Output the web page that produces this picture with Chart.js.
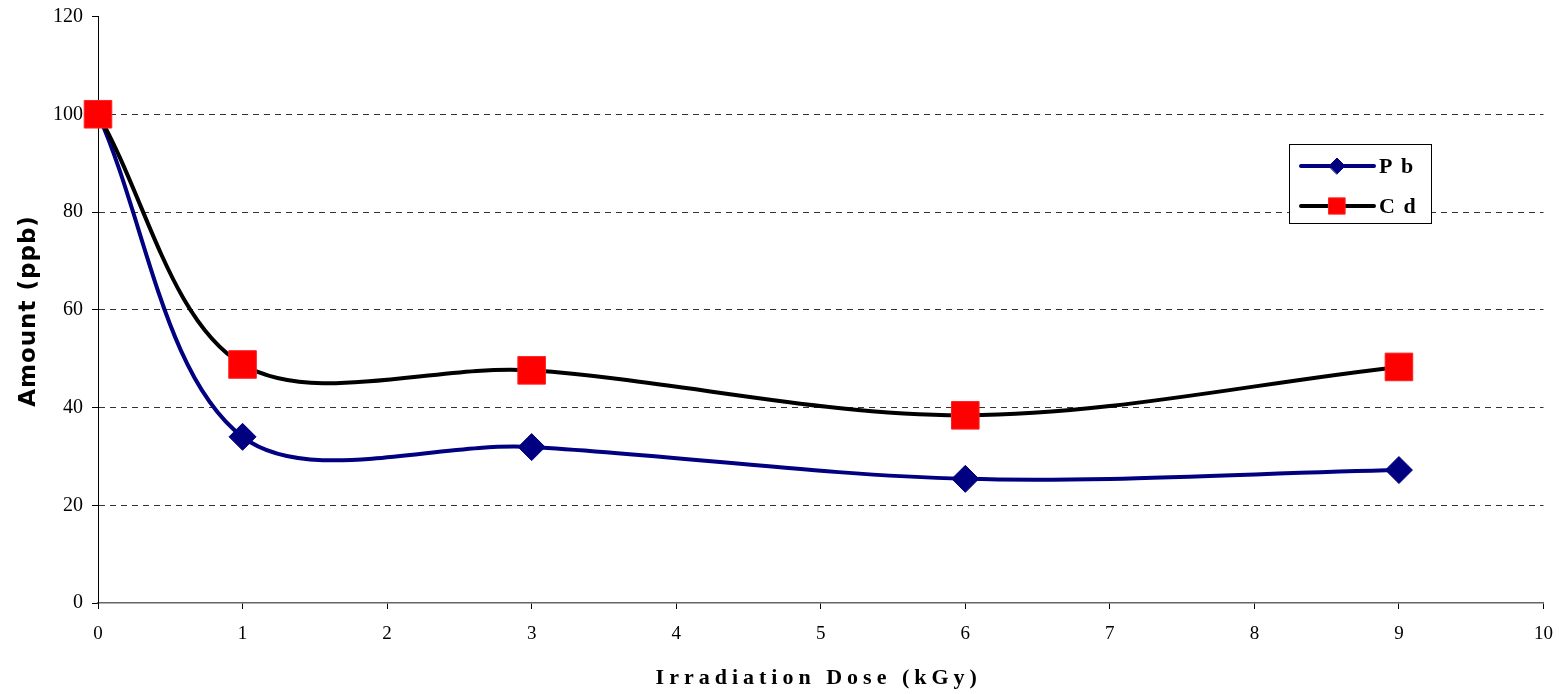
<!DOCTYPE html>
<html>
<head>
<meta charset="utf-8">
<script src="https://cdn.jsdelivr.net/npm/chart.js@4/dist/chart.umd.min.js"></script>
<style>
  html, body { margin: 0; padding: 0; background: #fff; overflow: hidden; }
  #wrap { position: relative; width: 1559px; height: 694px; overflow: hidden; }
  #c { position: absolute; left: 0; top: -4px; }
</style>
</head>
<body>
<div id="wrap"><canvas id="c" width="1564" height="698"></canvas></div>
<script>
// Irradiation dose (kGy) and remaining metal content (ppb)
const doses = [0, 1, 3, 6, 9];
const pbValues = [100, 34, 31.9, 25.4, 27.2];
const cdValues = [100, 48.8, 47.6, 38.4, 48.3];
const xTicks = [0, 1, 2, 3, 4, 5, 6, 7, 8, 9, 10];
const yTicks = [0, 20, 40, 60, 80, 100, 120];
const seriesNames = ['P b', 'C d'];
const xTitle = 'Irradiation Dose (kGy)';
const yTitle = 'Amount (ppb)';

const toPoints = (vals) => doses.map((d, i) => ({ x: d, y: vals[i] }));

// canvas sits 4px above the page top
const OY = 4;

// Axis titles and the boxed legend inside the plot
const decorations = {
  id: 'decorations',
  afterDraw(chart) {
    const ctx = chart.ctx;
    const area = chart.chartArea;
    ctx.save();
    // x title
    ctx.fillStyle = '#000';
    ctx.font = 'bold 22px "Liberation Serif"';
    ctx.letterSpacing = '5px';
    ctx.textAlign = 'center';
    ctx.textBaseline = 'middle';
    ctx.fillText(xTitle, (area.left + area.right) / 2 - 2, 678 + OY);
    // y title
    ctx.save();
    ctx.translate(29, 311 + OY);
    ctx.rotate(-Math.PI / 2);
    ctx.font = 'bold 23px "DejaVu Sans"';
    ctx.letterSpacing = '1px';
    ctx.fillText(yTitle, 0, 0);
    ctx.restore();

    // legend box
    const bx = 1289, by = 144 + OY, bw = 142, bh = 79;
    ctx.letterSpacing = '0px';
    ctx.fillStyle = '#fff';
    ctx.fillRect(bx, by, bw, bh);
    ctx.strokeStyle = '#000';
    ctx.lineWidth = 1;
    ctx.strokeRect(bx + 0.5, by + 0.5, bw, bh);
    const rows = [166 + OY, 206 + OY];
    chart.data.datasets.forEach((ds, i) => {
      const y = rows[i];
      ctx.strokeStyle = ds.borderColor;
      ctx.lineWidth = 4;
      ctx.lineCap = 'round';
      ctx.beginPath();
      ctx.moveTo(1301, y);
      ctx.lineTo(1374, y);
      ctx.stroke();
      ctx.fillStyle = ds.pointBackgroundColor;
      ctx.strokeStyle = ds.pointBorderColor;
      ctx.lineWidth = 1;
      Chart.helpers.drawPoint(ctx, {
        pointStyle: ds.pointStyle,
        rotation: 0,
        borderWidth: 1,
        radius: ds.pointStyle === 'rect' ? 11.5 : 8
      }, 1337, y);
      ctx.fillStyle = '#000';
      ctx.font = 'bold 22px "Liberation Serif"';
      ctx.letterSpacing = '1.5px';
      ctx.textAlign = 'left';
      ctx.textBaseline = 'middle';
      ctx.fillText(ds.label, 1379, y + 1);
      ctx.letterSpacing = '0px';
    });
    ctx.restore();
  }
};

// keep the plot area fixed regardless of label overhang
const noOverhang = (s) => {
  s.paddingLeft = 0;
  s.paddingRight = 0;
  s.paddingTop = 0;
  s.paddingBottom = 0;
};

new Chart(document.getElementById('c'), {
  type: 'line',
  data: {
    datasets: [
      {
        label: seriesNames[0],
        data: toPoints(pbValues),
        borderColor: '#000080',
        backgroundColor: '#000080',
        pointBackgroundColor: '#000080',
        pointBorderColor: '#000080',
        borderWidth: 4,
        pointStyle: 'rectRot',
        pointRadius: 13.5,
        pointBorderWidth: 1,
        tension: 0.33,
        clip: false,
        order: 1
      },
      {
        label: seriesNames[1],
        data: toPoints(cdValues),
        borderColor: '#000000',
        backgroundColor: '#ff0000',
        pointBackgroundColor: '#ff0000',
        pointBorderColor: '#ff2020',
        borderWidth: 4,
        pointStyle: 'rect',
        pointRadius: 19.5,
        pointBorderWidth: 1,
        tension: 0.33,
        clip: false,
        order: 0
      }
    ]
  },
  options: {
    responsive: false,
    animation: false,
    events: [],
    layout: { padding: { left: 0, right: 11, top: 12, bottom: 0 } },
    plugins: {
      legend: { display: false },
      tooltip: { enabled: false }
    },
    scales: {
      x: {
        type: 'linear',
        min: 0,
        max: 10,
        afterFit: (s) => { s.height = 91; noOverhang(s); },
        afterBuildTicks: (s) => { s.ticks = xTicks.map(v => ({ value: v })); },
        ticks: {
          color: '#000',
          font: { family: '"Liberation Serif"', size: 19 },
          padding: 14,
          maxRotation: 0
        },
        grid: {
          drawOnChartArea: false,
          drawTicks: true,
          tickLength: 6,
          tickColor: '#000'
        },
        border: { color: '#666', width: 1.5 }
      },
      y: {
        type: 'linear',
        min: 0,
        max: 120,
        afterFit: (s) => { s.width = 98; noOverhang(s); },
        afterBuildTicks: (s) => { s.ticks = yTicks.map(v => ({ value: v })); },
        ticks: {
          color: '#000',
          font: { family: '"Liberation Serif"', size: 20 },
          padding: 9
        },
        grid: {
          color: (c) => (c.tick && c.tick.value > 0 && c.tick.value < 120) ? '#333' : 'rgba(0,0,0,0)',
          lineWidth: 1,
          drawTicks: true,
          tickLength: 6,
          tickColor: '#000',
          tickBorderDash: []
        },
        border: { color: '#000', width: 1, dash: [6, 5] }
      }
    }
  },
  plugins: [decorations]
});
</script>
</body>
</html>
